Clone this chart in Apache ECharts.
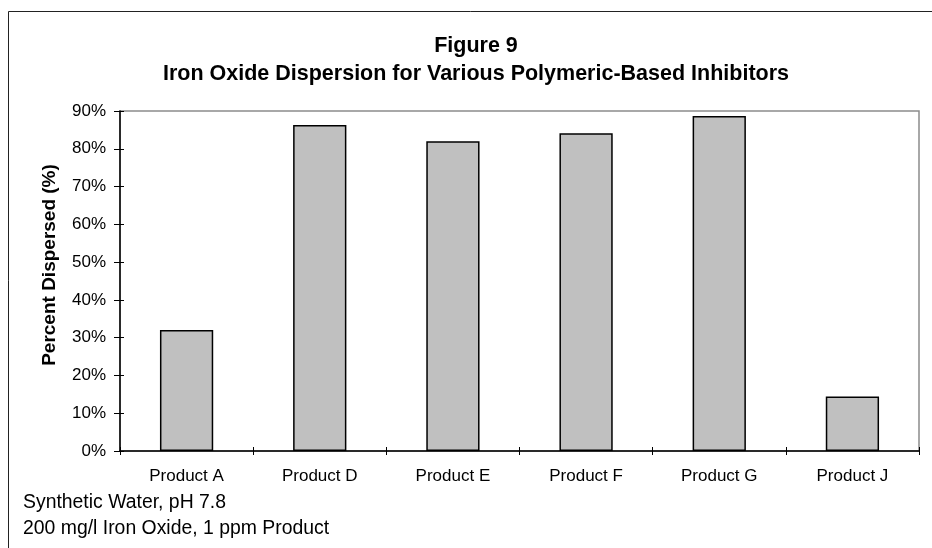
<!DOCTYPE html>
<html>
<head>
<meta charset="utf-8">
<script src="https://cdn.jsdelivr.net/npm/echarts@6/dist/echarts.min.js"></script>
<style>
html,body{margin:0;padding:0;background:#fff;}
#c{width:932px;height:548px;}
</style>
</head>
<body>
<div id="c"></div>
<script>
const categories = ["Product A", "Product D", "Product E", "Product F", "Product G", "Product J"];
const percentDispersed = [32.0, 86.3, 82.0, 84.1, 88.7, 14.4];
const yTicks = { min: 0, max: 90, interval: 10 };
const titleLines = ["Figure 9", "Iron Oxide Dispersion for Various Polymeric-Based Inhibitors"];
const yAxisTitle = "Percent Dispersed (%)";
const footnotes = ["Synthetic Water, pH 7.8", "200 mg/l Iron Oxide, 1 ppm Product"];

const FONT = "'Liberation Sans', Arial, Helvetica, sans-serif";
const chart = echarts.init(document.getElementById('c'), null, {renderer: 'canvas'});

const yBase = {type: 'value', min: yTicks.min, max: yTicks.max, interval: yTicks.interval, splitLine: {show: false}};
const xBase = {type: 'category', data: categories, boundaryGap: true};

chart.setOption({
  backgroundColor: '#ffffff',
  animation: false,
  grid: {left: 120, right: 13, top: 111, bottom: 97, containLabel: false, show: true, borderColor: '#8c8c8c', borderWidth: 1.5, backgroundColor: 'transparent'},
  xAxis: [
    Object.assign({}, xBase, {
      position: 'bottom',
      axisLine: {show: true, lineStyle: {color: '#000', width: 1.5}},
      axisTick: {show: true, inside: false, length: 4, lineStyle: {color: '#000', width: 1}},
      axisLabel: {color: '#000', fontFamily: FONT, fontSize: 17, margin: 17}
    }),
    Object.assign({}, xBase, {
      position: 'bottom',
      axisLine: {show: false},
      axisTick: {show: true, inside: true, length: 4, lineStyle: {color: '#000', width: 1}},
      axisLabel: {show: false}
    })
  ],
  yAxis: [
    Object.assign({}, yBase, {
      position: 'left',
      axisLine: {show: true, lineStyle: {color: '#000', width: 1.5}},
      axisTick: {show: true, inside: false, length: 6, lineStyle: {color: '#000', width: 1}},
      axisLabel: {color: '#000', fontFamily: FONT, fontSize: 17, margin: 14, formatter: '{value}%'}
    }),
    Object.assign({}, yBase, {
      position: 'left',
      axisLine: {show: false},
      axisTick: {show: true, inside: true, length: 4, lineStyle: {color: '#000', width: 1}},
      axisLabel: {show: false}
    })
  ],
  series: [{
    type: 'bar',
    xAxisIndex: 0,
    yAxisIndex: 0,
    data: percentDispersed,
    barWidth: '40%',
    itemStyle: {color: '#c0c0c0', borderColor: '#000', borderWidth: 1.5},
    emphasis: {disabled: true}
  }],
  graphic: [
    {type: 'rect', shape: {x: 8.5, y: 11.5, width: 1000, height: 1000}, style: {fill: 'none', stroke: '#222', lineWidth: 1}, silent: true},
    {type: 'text', x: 476, y: 46, style: {text: titleLines[0], font: 'bold 21.5px ' + FONT, fill: '#000', align: 'center', verticalAlign: 'middle'}},
    {type: 'text', x: 476, y: 74, style: {text: titleLines[1], font: 'bold 21.5px ' + FONT, fill: '#000', align: 'center', verticalAlign: 'middle'}},
    {type: 'text', x: 50, y: 265, rotation: Math.PI / 2, style: {text: yAxisTitle, font: 'bold 19px ' + FONT, fill: '#000', align: 'center', verticalAlign: 'middle'}},
    {type: 'text', x: 23, y: 502.5, style: {text: footnotes[0], font: '19.4px ' + FONT, fill: '#000', align: 'left', verticalAlign: 'middle'}},
    {type: 'text', x: 23, y: 528.5, style: {text: footnotes[1], font: '19.4px ' + FONT, fill: '#000', align: 'left', verticalAlign: 'middle'}}
  ]
});
</script>
</body>
</html>
